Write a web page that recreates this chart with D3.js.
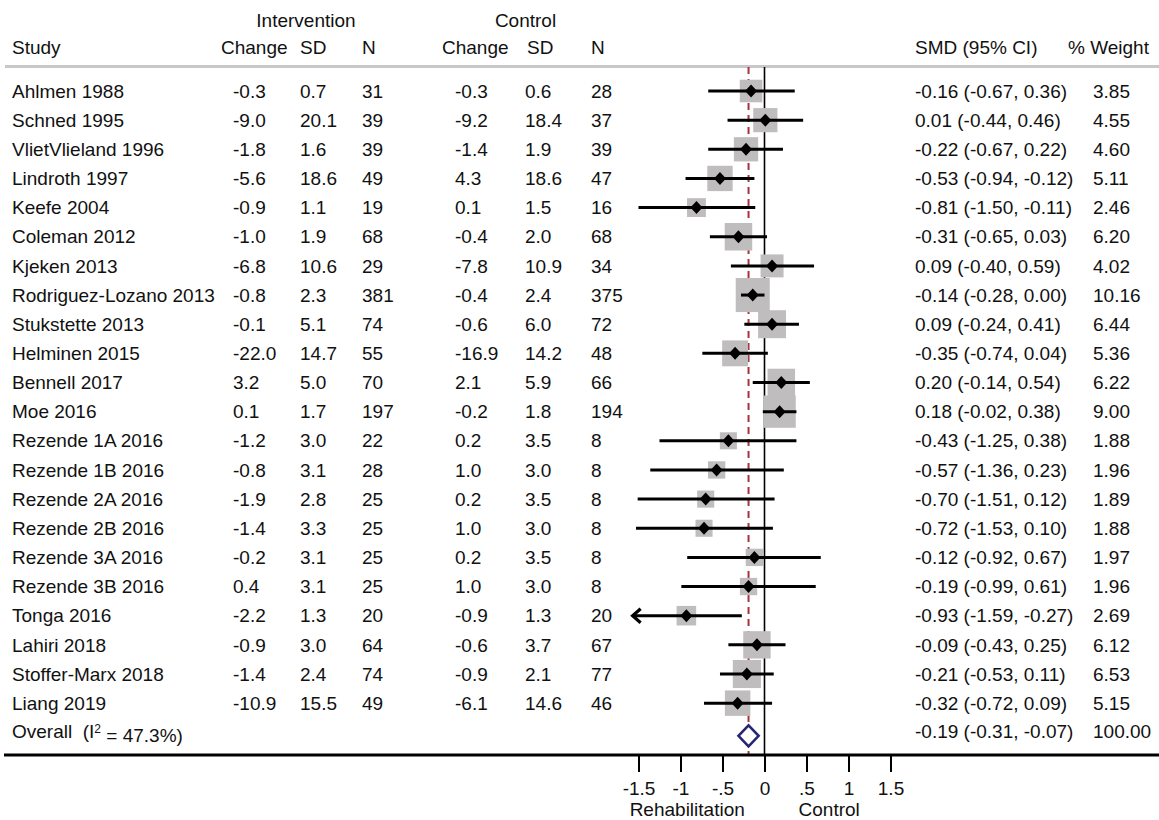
<!DOCTYPE html>
<html>
<head>
<meta charset="utf-8">
<script src="https://cdn.jsdelivr.net/npm/d3@7"></script>
<style>
  html, body { margin: 0; padding: 0; background: #fff; }
  svg { display: block; }
  text { font-family: "Liberation Sans", Arial, Helvetica, sans-serif; font-size: 19px; fill: #111; }
</style>
</head>
<body>
<svg id="chart" width="1159" height="820"></svg>
<script>
// ---------------- DATA ----------------
const studies = ["Ahlmen 1988","Schned 1995","VlietVlieland 1996","Lindroth 1997","Keefe 2004","Coleman 2012",
  "Kjeken 2013","Rodriguez-Lozano 2013","Stukstette 2013","Helminen 2015","Bennell 2017","Moe 2016",
  "Rezende 1A 2016","Rezende 1B 2016","Rezende 2A 2016","Rezende 2B 2016","Rezende 3A 2016","Rezende 3B 2016",
  "Tonga 2016","Lahiri 2018","Stoffer-Marx 2018","Liang 2019"];
const intChange = [-0.3,-9.0,-1.8,-5.6,-0.9,-1.0,-6.8,-0.8,-0.1,-22.0,3.2,0.1,-1.2,-0.8,-1.9,-1.4,-0.2,0.4,-2.2,-0.9,-1.4,-10.9];
const intSD     = [0.7,20.1,1.6,18.6,1.1,1.9,10.6,2.3,5.1,14.7,5.0,1.7,3.0,3.1,2.8,3.3,3.1,3.1,1.3,3.0,2.4,15.5];
const intN      = [31,39,39,49,19,68,29,381,74,55,70,197,22,28,25,25,25,25,20,64,74,49];
const ctlChange = [-0.3,-9.2,-1.4,4.3,0.1,-0.4,-7.8,-0.4,-0.6,-16.9,2.1,-0.2,0.2,1.0,0.2,1.0,0.2,1.0,-0.9,-0.6,-0.9,-6.1];
const ctlSD     = [0.6,18.4,1.9,18.6,1.5,2.0,10.9,2.4,6.0,14.2,5.9,1.8,3.5,3.0,3.5,3.0,3.5,3.0,1.3,3.7,2.1,14.6];
const ctlN      = [28,37,39,47,16,68,34,375,72,48,66,194,8,8,8,8,8,8,20,67,77,46];
const smd   = [-0.16,0.01,-0.22,-0.53,-0.81,-0.31,0.09,-0.14,0.09,-0.35,0.20,0.18,-0.43,-0.57,-0.70,-0.72,-0.12,-0.19,-0.93,-0.09,-0.21,-0.32];
const ciLow = [-0.67,-0.44,-0.67,-0.94,-1.50,-0.65,-0.40,-0.28,-0.24,-0.74,-0.14,-0.02,-1.25,-1.36,-1.51,-1.53,-0.92,-0.99,-1.59,-0.43,-0.53,-0.72];
const ciHigh= [0.36,0.46,0.22,-0.12,-0.11,0.03,0.59,0.00,0.41,0.04,0.54,0.38,0.38,0.23,0.12,0.10,0.67,0.61,-0.27,0.25,0.11,0.09];
const weights = [3.85,4.55,4.60,5.11,2.46,6.20,4.02,10.16,6.44,5.36,6.22,9.00,1.88,1.96,1.89,1.88,1.97,1.96,2.69,6.12,6.53,5.15];
const overallSMD = -0.19, overallLow = -0.31, overallHigh = -0.07, overallWeight = 100.00, overallI2 = 47.3;
const tickValues = [-1.5,-1,-0.5,0,0.5,1,1.5];
const tickLabels = ["-1.5","-1","-.5","0",".5","1","1.5"];
const favourLabels = ["Rehabilitation","Control"];
const favourPos = [-0.92, 0.77];
const plotMin = -1.57;

// ---------------- LAYOUT ----------------
const svg = d3.select("#chart");
const x = d3.scaleLinear().domain([-1.5, 1.5]).range([638.5, 890.5]);
const rowY0 = 91, rowStep = 29.15;
const y = d3.scaleLinear().domain([0, 1]).range([rowY0, rowY0 + rowStep]);
const overallY = y(studies.length) + 1.5;
const topY = 67, axisY = 755;

const f1 = v => v.toFixed(1);
const f2 = v => v.toFixed(2);

// header
const hdr = svg.append("g");
hdr.append("text").attr("x", 306).attr("y", 20).attr("dy", "0.35em").attr("text-anchor", "middle").text("Intervention");
hdr.append("text").attr("x", 525.5).attr("y", 20).attr("dy", "0.35em").attr("text-anchor", "middle").text("Control");
const headCols = [["Study",12],["Change",221],["SD",300],["N",362],["Change",442],["SD",527],["N",591],["SMD (95% CI)",915],["% Weight",1068]];
headCols.forEach(([t, px]) => hdr.append("text").attr("x", px).attr("y", 47).attr("dy", "0.35em").text(t));

svg.append("line").attr("x1", 5).attr("x2", 1159).attr("y1", 66.5).attr("y2", 66.5)
  .attr("stroke", "#c8c8c8").attr("stroke-width", 3);

// table columns
const cols = [
  {x: 12,   vals: studies},
  {x: 233,  vals: intChange.map(f1)},
  {x: 300,  vals: intSD.map(f1)},
  {x: 362,  vals: intN.map(String)},
  {x: 455,  vals: ctlChange.map(f1)},
  {x: 525,  vals: ctlSD.map(f1)},
  {x: 591,  vals: ctlN.map(String)},
  {x: 915,  vals: smd.map((v, i) => `${f2(v)} (${f2(ciLow[i])}, ${f2(ciHigh[i])})`)},
  {x: 1093, vals: weights.map(f2)}
];
cols.forEach(c => {
  svg.append("g").selectAll("text").data(c.vals).join("text")
    .attr("x", c.x).attr("y", (d, i) => y(i)).attr("dy", "0.35em").text(d => d);
});

// overall row text
const ot = svg.append("text").attr("x", 12).attr("y", overallY - 2).attr("dy", "0.35em");
ot.append("tspan").text("Overall\u00a0\u00a0(I");
ot.append("tspan").attr("dy", "-0.45em").attr("font-size", "12px").text("2");
ot.append("tspan").attr("dy", "0.45em").text(`\u00a0= ${overallI2.toFixed(1)}%)`);
svg.append("text").attr("x", 915).attr("y", overallY - 2).attr("dy", "0.35em")
  .text(`${f2(overallSMD)} (${f2(overallLow)}, ${f2(overallHigh)})`);
svg.append("text").attr("x", 1093).attr("y", overallY - 2).attr("dy", "0.35em").text(f2(overallWeight));

// reference lines
svg.append("line").attr("x1", x(0)).attr("x2", x(0)).attr("y1", topY).attr("y2", axisY)
  .attr("stroke", "#000").attr("stroke-width", 1.6);
svg.append("line").attr("x1", x(overallSMD)).attr("x2", x(overallSMD)).attr("y1", topY).attr("y2", axisY)
  .attr("stroke", "#a8323e").attr("stroke-width", 2).attr("stroke-dasharray", "7,5");

// boxes
const boxSide = w => 4.2 + 9.36 * Math.sqrt(w);
svg.append("g").selectAll("rect").data(studies).join("rect")
  .attr("x", (d, i) => x(smd[i]) - boxSide(weights[i]) / 2)
  .attr("y", (d, i) => y(i) - boxSide(weights[i]) / 2)
  .attr("width", (d, i) => boxSide(weights[i]))
  .attr("height", (d, i) => boxSide(weights[i]))
  .attr("fill", "#bfbdbd");

// CI lines
svg.append("g").selectAll("line").data(studies).join("line")
  .attr("x1", (d, i) => x(Math.max(ciLow[i], plotMin)))
  .attr("x2", (d, i) => x(ciHigh[i]))
  .attr("y1", (d, i) => y(i)).attr("y2", (d, i) => y(i))
  .attr("stroke", "#000").attr("stroke-width", 3);

// arrows for clipped CI
studies.forEach((d, i) => {
  if (ciLow[i] < plotMin) {
    const ax = x(plotMin), ay = y(i);
    svg.append("path").attr("d", `M${ax + 8},${ay - 7} L${ax},${ay} L${ax + 8},${ay + 7}`)
      .attr("fill", "none").attr("stroke", "#000").attr("stroke-width", 3.2);
  }
});

// point diamonds
const drx = 6, dry = 6.5;
svg.append("g").selectAll("path").data(studies).join("path")
  .attr("d", (d, i) => {
    const cx = x(smd[i]), cy = y(i);
    return `M${cx - drx},${cy} L${cx},${cy - dry} L${cx + drx},${cy} L${cx},${cy + dry} Z`;
  })
  .attr("fill", "#000");

// overall diamond
const dh = 10.5;
svg.append("path")
  .attr("d", `M${x(overallLow)},${overallY + 2} L${x(overallSMD)},${overallY + 2 - dh} L${x(overallHigh)},${overallY + 2} L${x(overallSMD)},${overallY + 2 + dh} Z`)
  .attr("fill", "#fff").attr("stroke", "#262673").attr("stroke-width", 2.6);

// axis
svg.append("line").attr("x1", 4).attr("x2", 1159).attr("y1", axisY).attr("y2", axisY)
  .attr("stroke", "#000").attr("stroke-width", 3);
const axis = d3.axisBottom(x).tickValues(tickValues).tickFormat((d, i) => tickLabels[i])
  .tickSize(17).tickPadding(10);
const ag = svg.append("g").attr("transform", `translate(0,${axisY})`).call(axis);
ag.select(".domain").remove();
ag.selectAll(".tick line").attr("stroke", "#000").attr("stroke-width", 2);
ag.selectAll(".tick text").attr("font-size", "19px").attr("fill", "#111")
  .attr("font-family", "Liberation Sans, Arial, sans-serif");

svg.append("g").selectAll("text").data(favourLabels).join("text")
  .attr("x", (d, i) => x(favourPos[i])).attr("y", 809).attr("dy", "0.35em")
  .attr("text-anchor", "middle").text(d => d);
</script>
</body>
</html>
